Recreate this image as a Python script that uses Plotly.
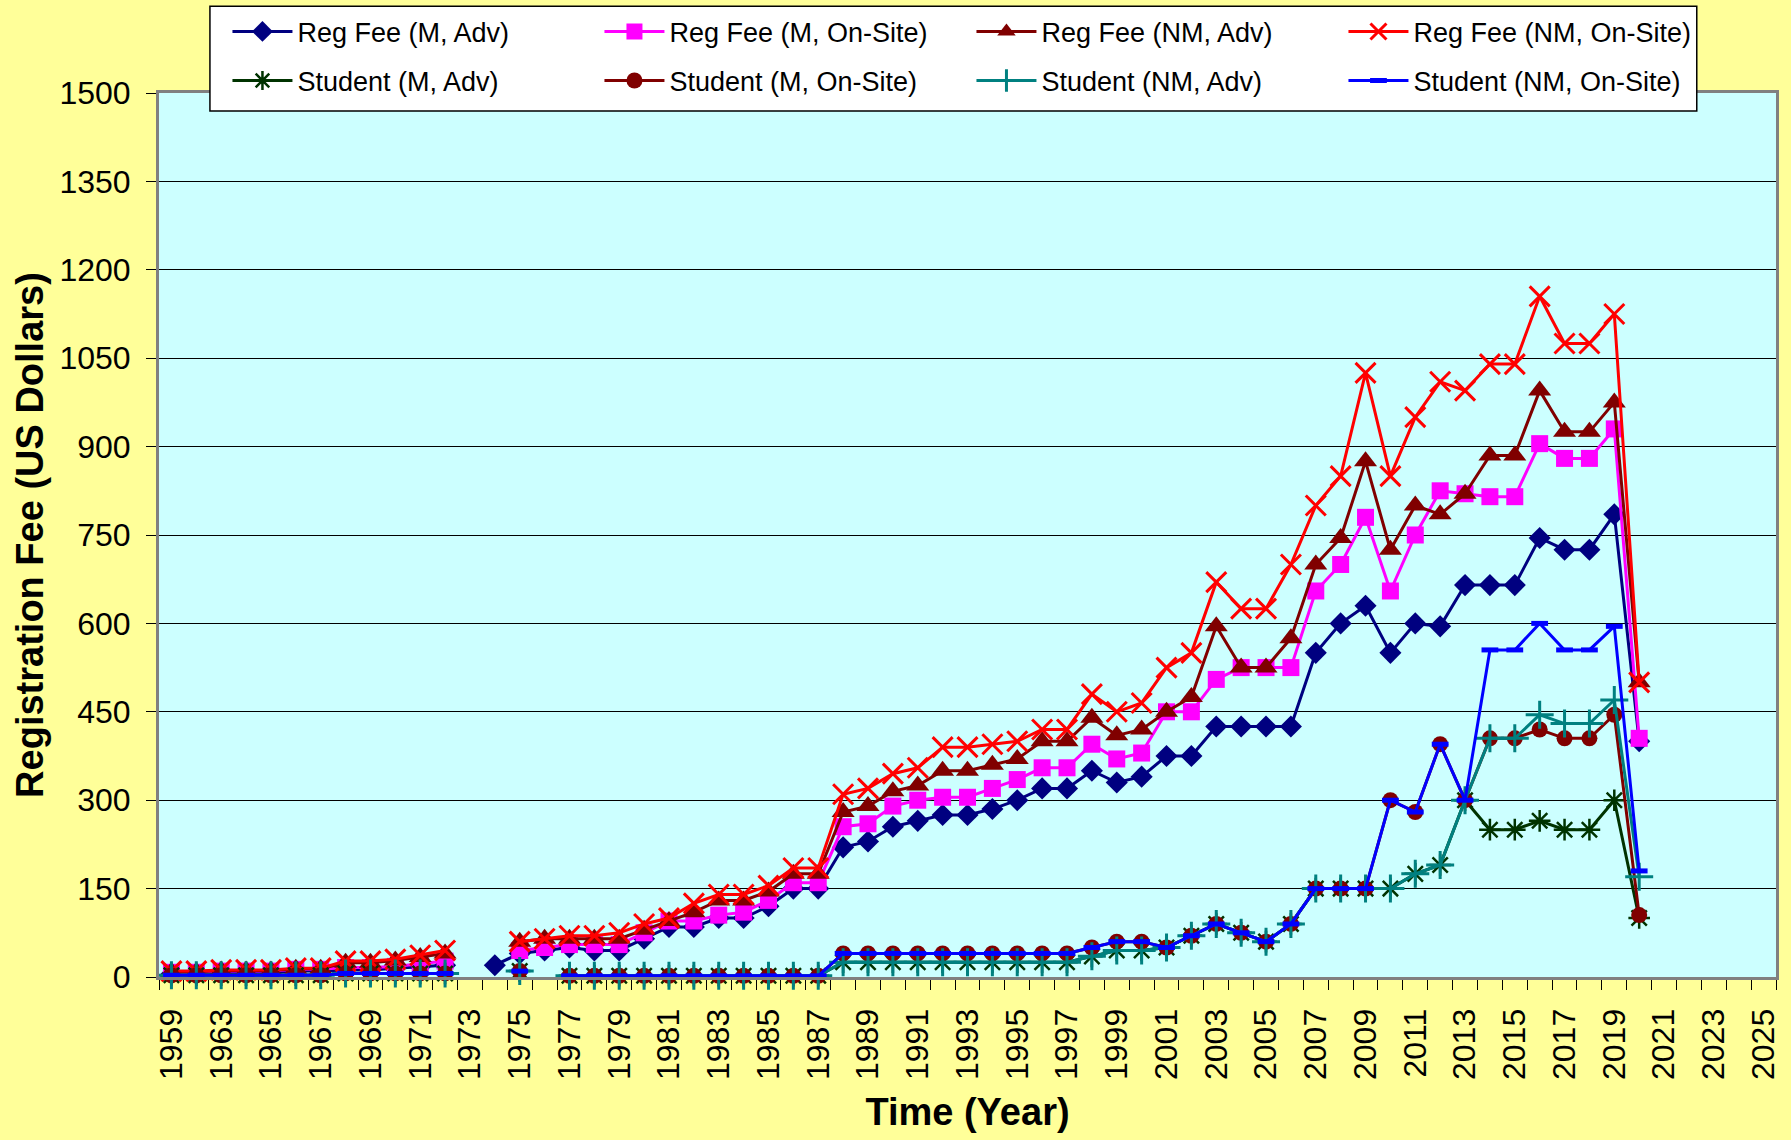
import plotly.graph_objects as go

YEARS = ["1959", "1961", "1963", "1964", "1965", "1966", "1967", "1968", "1969", "1970",
         "1971", "1972", "1973", "1974", "1975", "1976", "1977", "1978", "1979", "1980",
         "1981", "1982", "1983", "1984", "1985", "1986", "1987", "1988", "1989", "1990",
         "1991", "1992", "1993", "1994", "1995", "1996", "1997", "1998", "1999", "2000",
         "2001", "2002", "2003", "2004", "2005", "2006", "2007", "2008", "2009", "2010",
         "2011", "2012", "2013", "2014", "2015", "2016", "2017", "2018", "2019", "2020",
         "2021", "2022", "2023", "2024", "2025"]

N = None
# 1959..1972 | 1973 1974 1975 1976 | 1977..1987 | 1988..1997 | 1998..2007 | 2008..2017 | 2018..2020 | 2021..2025
REG_M_ADV = [5, 5, 7, 7, 7, 10, 10, 12, 12, 15, 18, 20,
             N, 20, 40, 45,
             50, 45, 45, 65, 85, 85, 100, 100, 120, 150, 150,
             220, 230, 255, 265, 275, 275, 285, 300, 320, 320,
             350, 330, 340, 375, 375, 425, 425, 425, 425, 550,
             600, 630, 550, 600, 595, 665, 665, 665, 745, 725,
             725, 785, 400,
             N, N, N, N, N]
REG_M_ONSITE = [8, 8, 10, 10, 10, 13, 13, 16, 16, 18, 22, 27,
                N, N, 45, 50,
                55, 55, 55, 75, 95, 95, 105, 110, 130, 160, 160,
                255, 260, 290, 300, 305, 305, 320, 335, 355, 355,
                395, 370, 380, 450, 450, 505, 525, 525, 525, 655,
                700, 780, 655, 750, 825, 820, 815, 815, 905, 880,
                880, 930, 405,
                N, N, N, N, N]
REG_NM_ADV = [9, 9, 11, 11, 11, 14, 14, 24, 24, 28, 34, 40,
              N, N, 60, 65,
              65, 65, 65, 80, 95, 110, 130, 130, 145, 175, 175,
              280, 290, 315, 325, 350, 350, 360, 370, 400, 400,
              440, 410, 420, 450, 475, 595, 525, 525, 575, 700,
              745, 875, 725, 800, 785, 820, 885, 885, 995, 925,
              925, 975, 500,
              N, N, N, N, N]
REG_NM_ONSITE = [10, 10, 12, 12, 12, 15, 15, 27, 27, 30, 37, 45,
                 N, N, 60, 65,
                 70, 70, 75, 90, 100, 125, 140, 140, 155, 185, 185,
                 310, 320, 345, 355, 390, 390, 395, 400, 420, 420,
                 480, 450, 465, 525, 550, 670, 625, 625, 700, 800,
                 850, 1025, 850, 950, 1010, 995, 1040, 1040, 1155, 1075,
                 1075, 1125, 500,
                 N, N, N, N, N]
STU_M_ADV = [3, 3, 3, 3, 3, 3, 3, 6, 6, 6, 6, 6,
             N, N, 10, N,
             2, 2, 2, 2, 2, 2, 2, 2, 2, 2, 2,
             25, 25, 25, 25, 25, 25, 25, 25, 25, 25,
             35, 45, 45, 50, 70, 90, 75, 60, 90, 150,
             150, 150, 150, 175, 190, 300, 250, 250, 265, 250,
             250, 300, 100,
             N, N, N, N, N]
STU_M_ONSITE = [3, 3, 3, 3, 3, 3, 3, 6, 6, 6, 6, 6,
                N, N, 10, N,
                2, 2, 2, 2, 2, 2, 2, 2, 2, 2, 2,
                40, 40, 40, 40, 40, 40, 40, 40, 40, 40,
                50, 60, 60, 50, 70, 90, 75, 60, 90, 150,
                150, 150, 300, 280, 395, 300, 405, 405, 420, 405,
                405, 445, 105,
                N, N, N, N, N]
STU_NM_ADV = [3, 3, 3, 3, 3, 3, 3, 6, 6, 6, 6, 6,
              N, N, 10, N,
              2, 2, 2, 2, 2, 2, 2, 2, 2, 2, 2,
              25, 25, 25, 25, 25, 25, 25, 25, 25, 25,
              35, 45, 45, 50, 70, 90, 75, 60, 90, 150,
              150, 150, 150, 175, 190, 300, 405, 405, 445, 430,
              430, 470, 170,
              N, N, N, N, N]
STU_NM_ONSITE = [3, 3, 3, 3, 3, 3, 3, 6, 6, 6, 6, 6,
                 N, N, 10, N,
                 2, 2, 2, 2, 2, 2, 2, 2, 2, 2, 2,
                 40, 40, 40, 40, 40, 40, 40, 40, 40, 40,
                 50, 60, 60, 50, 70, 90, 75, 60, 90, 150,
                 150, 150, 300, 280, 395, 300, 555, 555, 600, 555,
                 555, 595, 180,
                 N, N, N, N, N]

SERIES_NAMES = ["Reg Fee (M, Adv)", "Reg Fee (M, On-Site)", "Reg Fee (NM, Adv)", "Reg Fee (NM, On-Site)",
                "Student (M, Adv)", "Student (M, On-Site)", "Student (NM, Adv)", "Student (NM, On-Site)"]
SERIES_VALUES = [REG_M_ADV, REG_M_ONSITE, REG_NM_ADV, REG_NM_ONSITE,
                 STU_M_ADV, STU_M_ONSITE, STU_NM_ADV, STU_NM_ONSITE]

STYLES = [
    dict(color="#000080", symbol="diamond", size=17, lw=0),
    dict(color="#FF00FF", symbol="square", size=17, lw=0),
    dict(color="#800000", symbol="triangle-up", size=20, lw=0),
    dict(color="#FF0000", symbol="x-thin", size=20, lw=3),
    dict(color="#003300", symbol="asterisk", size=18, lw=2.5),
    dict(color="#800000", symbol="circle", size=16, lw=0),
    dict(color="#008080", symbol="cross-thin", size=20, lw=3),
    dict(color="#0000FF", symbol="line-ew", size=12, lw=5),
]

fig = go.Figure()
for i, (name, vals, st) in enumerate(zip(SERIES_NAMES, SERIES_VALUES, STYLES)):
    fig.add_trace(go.Scatter(
        x=YEARS, y=vals, name=name, mode="lines+markers",
        line=dict(color=st["color"], width=3),
        marker=dict(symbol=st["symbol"], size=st["size"], color=st["color"],
                    line=dict(color=st["color"], width=st["lw"])),
        connectgaps=False, cliponaxis=False,
        legend="legend" if i < 4 else "legend2",
    ))

FONT = "Arial, Liberation Sans, sans-serif"
legend_common = dict(orientation="h", bgcolor="rgba(0,0,0,0)", borderwidth=0,
                     font=dict(family=FONT, size=27, color="black"),
                     itemwidth=60, entrywidth=297, entrywidthmode="pixels",
                     xref="container", yref="container",
                     xanchor="left", yanchor="middle", x=0.127)

fig.update_layout(
    width=1791, height=1140,
    margin=dict(l=159, r=15, t=93, b=163, autoexpand=False),
    paper_bgcolor="#FFFF99", plot_bgcolor="#CCFFFF",
    font=dict(family=FONT, color="black"),
    showlegend=True,
    legend=dict(**legend_common, y=0.972),
    legend2=dict(**legend_common, y=0.929),
    shapes=[dict(type="rect", xref="paper", yref="paper",
                 x0=0.0315, x1=0.951, y0=0.9796, y1=1.098,
                 fillcolor="white", line=dict(color="black", width=1.5), layer="above")],
    xaxis=dict(
        type="category", categoryorder="array", categoryarray=YEARS,
        range=[-0.5, len(YEARS) - 0.5], autorange=False,
        tickmode="array", tickvals=YEARS,
        ticktext=[y if i % 2 == 0 else "" for i, y in enumerate(YEARS)],
        tickangle=-90, tickson="boundaries", ticks="outside", ticklen=10,
        tickcolor="black", tickwidth=1, ticklabelstandoff=16,
        tickfont=dict(family=FONT, size=32, color="black"),
        showgrid=False, showline=True, linecolor="#808080", linewidth=3, mirror=True,
        automargin=False,
        title=dict(text="<b>Time (Year)</b>", font=dict(family=FONT, size=38, color="black"),
                   standoff=20),
    ),
    yaxis=dict(
        range=[0, 1500], autorange=False, tick0=0, dtick=150, ticks="outside", ticklen=10,
        tickcolor="black", tickwidth=1, ticklabelstandoff=9,
        tickfont=dict(family=FONT, size=32, color="black"),
        showgrid=True, gridcolor="black", gridwidth=1, zeroline=False,
        showline=True, linecolor="#808080", linewidth=3, mirror=True,
        automargin=False,
        title=dict(text="<b>Registration Fee (US Dollars)</b>",
                   font=dict(family=FONT, size=38, color="black"), standoff=5),
    ),
)

fig.write_html("out.html", config={"displayModeBar": False},
               post_script="document.body.style.margin='0';document.body.style.overflow='hidden';")
